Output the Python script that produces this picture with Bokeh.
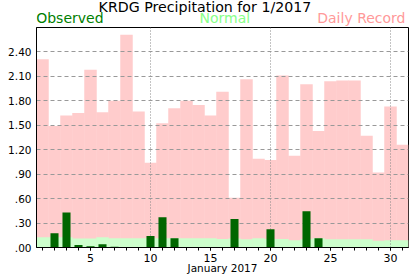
from bokeh.plotting import figure
from bokeh.models import Range1d, FixedTicker, Label, ColumnDataSource
from bokeh.layouts import column
from bokeh.embed import file_html
from bokeh.resources import INLINE

days = list(range(1, 32))
record = [2.31, 1.49, 1.62, 1.65, 2.18, 1.66, 1.80, 2.61, 1.67, 1.04, 1.525,
          1.71, 1.80, 1.75, 1.62, 1.91, 0.61, 2.065, 1.09, 1.075, 2.11, 1.125,
          2.005, 1.43, 2.04, 2.05, 2.05, 1.37, 0.92, 1.73, 1.26]
normal = [0.127, 0.127, 0.127, 0.11, 0.11, 0.127, 0.114, 0.114, 0.114, 0.114,
          0.114, 0.114, 0.114, 0.114, 0.114, 0.105, 0.11, 0.10, 0.114, 0.105,
          0.105, 0.09, 0.10, 0.114, 0.10, 0.10, 0.10, 0.10, 0.083, 0.09, 0.09]
observed = [0, 0.175, 0.43, 0.03, 0.015, 0.04, 0.01, 0, 0, 0.14, 0.37, 0.115,
            0, 0, 0, 0, 0.35, 0, 0, 0.225, 0, 0, 0.445, 0.115, 0, 0, 0, 0, 0, 0, 0]

y_ticks = [0, 0.3, 0.6, 0.9, 1.2, 1.5, 1.8, 2.1, 2.4]
y_tick_labels = [".00", ".30", ".60", ".90", "1.20", "1.50", "1.80", "2.10", "2.40"]
x_major = [5, 10, 15, 20, 25, 30]
x_grid = [10, 20, 30]

title_text = "KRDG Precipitation for  1/2017"
x_label = "January 2017"
FONT = "DejaVu Sans"

src = ColumnDataSource(dict(day=days, record=record, normal=normal, observed=observed))

# ---- header with title and colour key (same horizontal frame as the chart) ----
h = figure(width=417, height=26, x_range=Range1d(0.5, 31.5), y_range=Range1d(0, 26),
           min_border_left=36, min_border_right=9, min_border_top=0, min_border_bottom=0,
           output_backend="svg", toolbar_location=None,
           x_axis_location=None, y_axis_location=None, title_location=None)
h.outline_line_color = None
h.xgrid.visible = False
h.ygrid.visible = False
SHIFT = 5.5
h.add_layout(Label(x=14.725, y=26 - 11.8 + SHIFT, text=title_text, text_align="center",
                   text_baseline="alphabetic", text_font=FONT, text_font_size="14.2px",
                   text_color="black"))
h.add_layout(Label(x=0.475, y=26 - 23.3 + SHIFT, text="Observed", text_align="left",
                   text_baseline="alphabetic", text_font=FONT, text_font_size="14px",
                   text_color="#008000"))
h.add_layout(Label(x=14.08, y=26 - 23.3 + SHIFT, text="Normal", text_align="left",
                   text_baseline="alphabetic", text_font=FONT, text_font_size="14px",
                   text_color="#88ff88"))
h.add_layout(Label(x=31.25, y=26 - 23.3 + SHIFT, text="Daily Record", text_align="right",
                   text_baseline="alphabetic", text_font=FONT, text_font_size="14px",
                   text_color="#ff9999"))

# ---- main chart ----
p = figure(frame_width=372, frame_height=220,
           min_border_left=36, min_border_right=9, min_border_top=1, min_border_bottom=29,
           x_range=Range1d(0.5, 31.5), y_range=Range1d(0, 2.7),
           output_backend="svg", toolbar_location=None, title_location=None,
           background_fill_color="white", border_fill_color="white")

r1 = p.vbar(x="day", top="record", width=1.04, source=src, fill_color="#ffcccc", line_color=None)
r1.level = "image"
r2 = p.vbar(x="day", top="normal", width=1.04, source=src, fill_color="#ccffcc", line_color=None)
r2.level = "image"
p.vbar(x="day", top="observed", width=0.67, source=src, fill_color="#006600", line_color=None)

p.outline_line_color = "black"
p.outline_line_width = 1
p.outline_line_alpha = 1

# y axis
p.yaxis.ticker = FixedTicker(ticks=y_ticks)
p.yaxis.major_label_overrides = {t: l for t, l in zip(y_ticks, y_tick_labels)}
p.yaxis.major_tick_out = 0
p.yaxis.major_tick_in = 0
p.yaxis.minor_tick_out = 0
p.yaxis.minor_tick_in = 0
p.yaxis.major_label_standoff = 5
p.yaxis.axis_line_color = "black"
p.yaxis.major_label_text_font = FONT
p.yaxis.major_label_text_font_size = "10.5px"
p.yaxis.major_label_text_color = "black"

# x axis
p.xaxis.ticker = FixedTicker(ticks=x_major, minor_ticks=days)
p.xaxis.major_tick_out = 3
p.xaxis.major_tick_in = 0
p.xaxis.minor_tick_out = 3
p.xaxis.minor_tick_in = 0
p.xaxis.major_tick_line_color = "black"
p.xaxis.minor_tick_line_color = "black"
p.xaxis.major_label_standoff = 3
p.xaxis.axis_line_color = "black"
p.xaxis.major_label_text_font = FONT
p.xaxis.major_label_text_font_size = "11px"
p.xaxis.major_label_text_color = "black"
p.xaxis.axis_label = x_label
p.xaxis.axis_label_standoff = -3
p.xaxis.axis_label_text_font = FONT
p.xaxis.axis_label_text_font_size = "10.5px"
p.xaxis.axis_label_text_font_style = "normal"
p.xaxis.axis_label_text_color = "black"

# grids
p.ygrid.ticker = FixedTicker(ticks=y_ticks)
p.ygrid.grid_line_color = "#999999"
p.ygrid.grid_line_dash = "4 3"
p.ygrid.grid_line_width = 1
p.xgrid.ticker = FixedTicker(ticks=x_grid)
p.xgrid.grid_line_color = "#888888"
p.xgrid.grid_line_dash = "1 2"
p.xgrid.grid_line_width = 1

layout = column(h, p, spacing=0)
open("out.html", "w").write(file_html(layout, INLINE))
